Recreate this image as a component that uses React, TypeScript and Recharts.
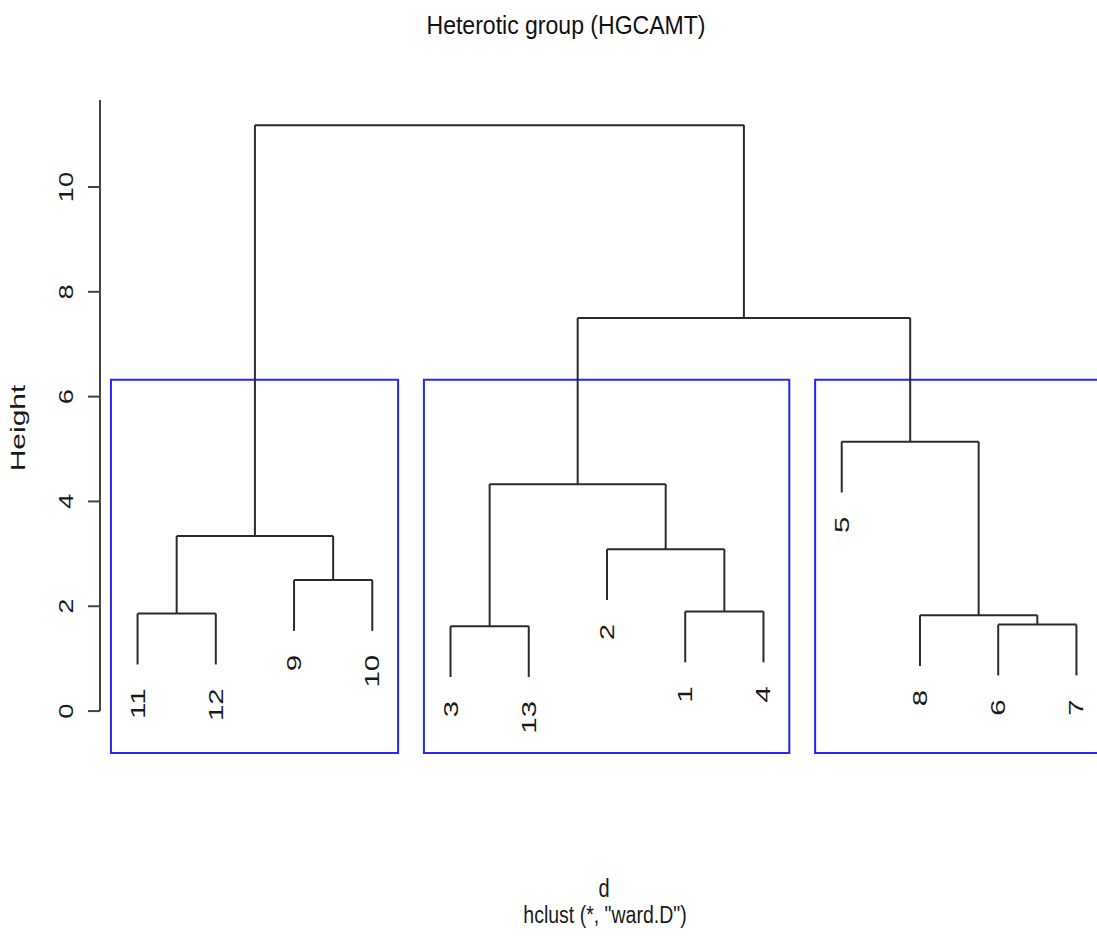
import React from 'react';
import { ComposedChart, XAxis, YAxis, ReferenceLine, ReferenceArea, Scatter } from 'recharts';

// leaves in dendrogram order (left to right)
const leafLabels = ['11', '12', '9', '10', '3', '13', '2', '1', '4', '5', '8', '6', '7'];

// merges: child ids are leaf labels or 'mN' (N = merge number, 1-based)
const mergeLeft = ['11', '9', 'm1', '3', '1', '2', 'm4', '6', '8', '5', 'm7', 'm3'];
const mergeRight = ['12', '10', 'm2', '13', '4', 'm5', 'm6', '7', 'm8', 'm9', 'm10', 'm11'];
const mergeHeight = [1.86, 2.5, 3.34, 1.62, 1.9, 3.09, 4.33, 1.65, 1.83, 5.14, 7.5, 11.18];

const hang = 0.97;

// rect.hclust(k = 3) boxes, by leaf position
const clusterStart = [1, 5, 10];
const clusterEnd = [4, 9, 13];
const cutHeight = 6.32;

const heightTicks = [0, 2, 4, 6, 8, 10];

const X_MIN = 0.52;
const X_MAX = 13.48;
const Y_MIN = -0.8;
const Y_MAX = 11.66;

const LINE = '#2b2b2b';
const BLUE = '#2626ff';
const FONT = 'Liberation Sans, Arial, sans-serif';

// node positions
const nodeX: Record<string, number> = {};
leafLabels.forEach((l, i) => (nodeX[l] = i + 1));
const nodeH: Record<string, number> = {};
mergeHeight.forEach((h, i) => {
  const id = 'm' + (i + 1);
  nodeX[id] = (nodeX[mergeLeft[i]] + nodeX[mergeRight[i]]) / 2;
  nodeH[id] = h;
});

const segments: { x: number; y: number }[][] = [];
const leafPoints: { x: number; y: number; label: string }[] = [];
mergeHeight.forEach((h, i) => {
  const kids = [mergeLeft[i], mergeRight[i]];
  kids.forEach((c) => {
    const isLeaf = !c.startsWith('m');
    const bottom = isLeaf ? h - hang : nodeH[c];
    segments.push([{ x: nodeX[c], y: bottom }, { x: nodeX[c], y: h }]);
    if (isLeaf) leafPoints.push({ x: nodeX[c], y: bottom, label: c });
  });
  segments.push([{ x: nodeX[kids[0]], y: h }, { x: nodeX[kids[1]], y: h }]);
});

const renderTick = (props: any) => {
  const { x, y, payload } = props;
  return (
    <g transform={`translate(${x - 13},${y}) scale(1,1.3) rotate(-90)`}>
      <text x={0} y={0} textAnchor="middle" fill="#1a1a1a" fontSize={21} fontFamily={FONT}>
        {payload.value}
      </text>
    </g>
  );
};

const renderLeafLabel = (props: any) => {
  const { cx, cy, payload } = props;
  return (
    <g transform={`translate(${cx + 7},${cy + 24}) scale(1,1.4) rotate(-90)`}>
      <text x={0} y={0} textAnchor="end" fill="#1a1a1a" fontSize={21} fontFamily={FONT}>
        {payload.label}
      </text>
    </g>
  );
};

const App = () => {
  return (
    <div style={{ position: 'absolute', left: 0, top: 0, width: 1097, height: 950, overflow: 'hidden', background: '#fff' }}>
      <ComposedChart width={1120} height={950} margin={{ top: 100, right: 6, bottom: 197, left: 0 }}>
        <XAxis type="number" dataKey="x" domain={[X_MIN, X_MAX]} hide allowDataOverflow />
        <YAxis
          type="number"
          domain={[Y_MIN, Y_MAX]}
          ticks={heightTicks}
          width={100}
          tickSize={12}
          axisLine={false}
          tickLine={{ stroke: '#444', strokeWidth: 2 }}
          tick={renderTick}
          allowDataOverflow
        />
        <ReferenceLine
          segment={[{ x: X_MIN, y: 0 }, { x: X_MIN, y: Y_MAX }]}
          stroke="#444"
          strokeWidth={2}
          ifOverflow="visible"
        />
        {clusterStart.map((s, i) => (
          <ReferenceArea
            key={`box-${i}`}
            x1={s - 0.34}
            x2={clusterEnd[i] + 0.33}
            y1={Y_MIN}
            y2={cutHeight}
            fill="none"
            fillOpacity={0}
            stroke={BLUE}
            strokeWidth={2}
            ifOverflow="visible"
          />
        ))}
        {segments.map((seg, i) => (
          <ReferenceLine key={`seg-${i}`} segment={seg} stroke={LINE} strokeWidth={2} ifOverflow="visible" />
        ))}
        <Scatter data={leafPoints} dataKey="y" shape={renderLeafLabel} isAnimationActive={false} />
      </ComposedChart>
      <svg width={1097} height={950} style={{ position: 'absolute', left: 0, top: 0, pointerEvents: 'none' }}>
        <text
          x={566}
          y={34}
          textAnchor="middle"
          fontSize={26}
          textLength={279}
          lengthAdjust="spacingAndGlyphs"
          fill="#111"
          fontFamily={FONT}
        >
          Heterotic group (HGCAMT)
        </text>
        <g transform="translate(20,428) scale(1,1.5) rotate(-90)">
          <text x={0} y={5} textAnchor="middle" fontSize={20} fill="#1a1a1a" fontFamily={FONT}>
            Height
          </text>
        </g>
        <g transform="translate(604,897) scale(1,1.25)">
          <text x={0} y={0} textAnchor="middle" fontSize={20} fill="#1a1a1a" fontFamily={FONT}>
            d
          </text>
        </g>
        <g transform="translate(605,923) scale(1,1.25)">
          <text x={0} y={0} textAnchor="middle" fontSize={19.5} fill="#1a1a1a" fontFamily={FONT}>
            hclust (*, "ward.D")
          </text>
        </g>
      </svg>
    </div>
  );
};

export default App;
